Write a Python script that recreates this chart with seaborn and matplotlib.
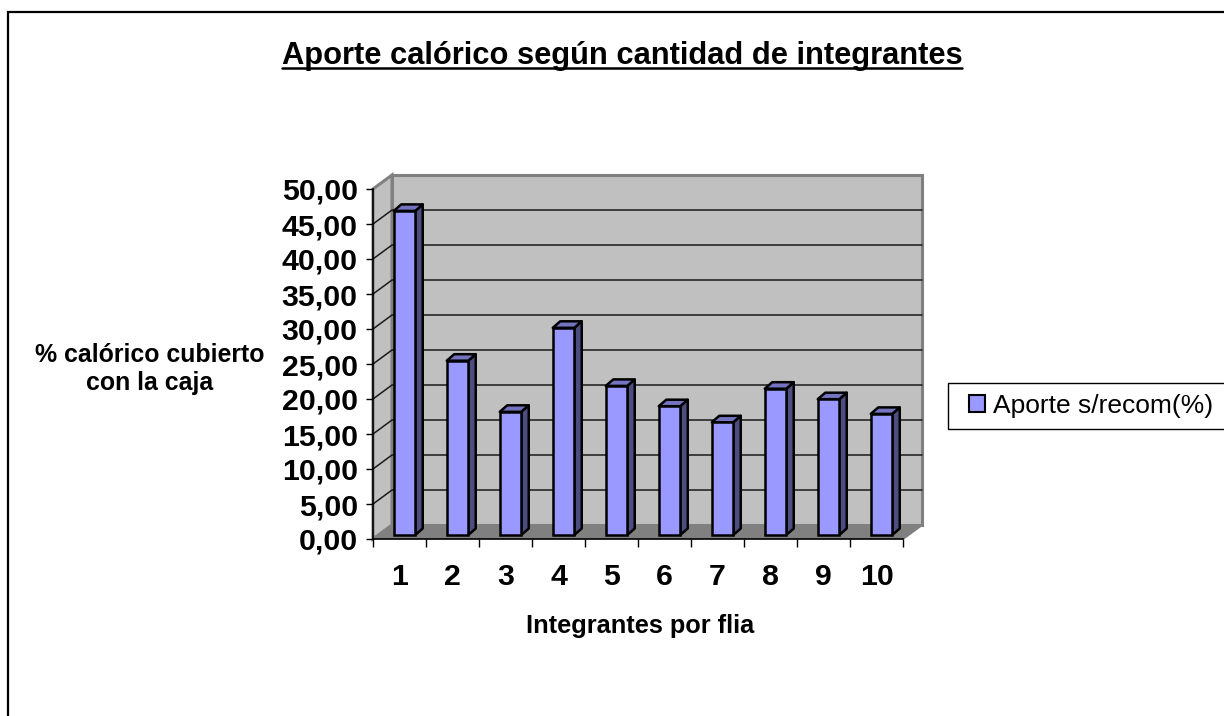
import matplotlib
matplotlib.use("Agg")
import matplotlib.pyplot as plt
import seaborn as sns
import pandas as pd
from matplotlib.patches import Polygon, Rectangle
from matplotlib.lines import Line2D
from matplotlib.ticker import FixedLocator, FuncFormatter

# ---------------- data ----------------
categories = ["1", "2", "3", "4", "5", "6", "7", "8", "9", "10"]
values = [46.3, 24.9, 17.6, 29.6, 21.3, 18.4, 16.1, 20.9, 19.4, 17.3]
series_name = "Aporte s/recom(%)"
title = "Aporte calórico según cantidad de integrantes"
y_label = "% calórico cubierto\ncon la caja"
x_label = "Integrantes por flia"
y_ticks = [0, 5, 10, 15, 20, 25, 30, 35, 40, 45, 50]

sns.set_style("white")
plt.rcParams["font.family"] = ["Liberation Sans", "DejaVu Sans"]
plt.rcParams["text.color"] = "black"
plt.rcParams["axes.labelcolor"] = "black"
plt.rcParams["xtick.color"] = "black"
plt.rcParams["ytick.color"] = "black"

W, H = 1224, 716
fig = plt.figure(figsize=(W / 100, H / 100), dpi=100)

# front plane of the 3D box (pixel geometry)
L, R, T, B = 373, 903, 189, 539
ax = fig.add_axes([L / W, 1 - B / H, (R - L) / W, (B - T) / H])
ax.set_facecolor("none")
ax.set_xlim(-0.5, len(categories) - 0.5)
ax.set_ylim(0, 50)

sx = (len(categories)) / (R - L)   # data units per pixel (x)
sy = 50 / (B - T)                  # data units per pixel (y)

def off(x, y, dxp, dyp):
    return (x + dxp * sx, y + dyp * sy)

WALL_DX, WALL_DY = 19, 14
BAR_DX, BAR_DY = 5, 4
DEP_DX, DEP_DY = 7.5, 6.5

wall_col = "#c0c0c0"
floor_col = "#808080"
edge_gray = "#808080"
x0, x1 = -0.5, len(categories) - 0.5

# back wall
back = Polygon([off(x0, 0, WALL_DX, WALL_DY), off(x1, 0, WALL_DX, WALL_DY),
                off(x1, 50, WALL_DX, WALL_DY), off(x0, 50, WALL_DX, WALL_DY)],
               closed=True, facecolor=wall_col, edgecolor=edge_gray, lw=2.2,
               clip_on=False, zorder=0)
ax.add_patch(back)
# left side wall
side = Polygon([(x0, 0), off(x0, 0, WALL_DX, WALL_DY), off(x0, 50, WALL_DX, WALL_DY), (x0, 50)],
               closed=True, facecolor=wall_col, edgecolor=edge_gray, lw=2.2,
               clip_on=False, zorder=0.1)
ax.add_patch(side)
# gridlines
for yv in y_ticks[1:-1]:
    ax.add_line(Line2D([x0, off(x0, yv, WALL_DX, WALL_DY)[0], off(x1, yv, WALL_DX, WALL_DY)[0]],
                       [yv, off(x0, yv, WALL_DX, WALL_DY)[1], off(x1, yv, WALL_DX, WALL_DY)[1]],
                       color="#1a1a1a", lw=1.1, clip_on=False, zorder=0.5))
# floor
floor = Polygon([(x0, 0), (x1, 0), off(x1, 0, WALL_DX, WALL_DY), off(x0, 0, WALL_DX, WALL_DY)],
                closed=True, facecolor=floor_col, edgecolor="none", clip_on=False, zorder=0.6)
ax.add_patch(floor)
ax.add_line(Line2D([x1, off(x1, 0, WALL_DX, WALL_DY)[0]], [0, off(x1, 0, WALL_DX, WALL_DY)[1]],
                   color=edge_gray, lw=1.5, clip_on=False, zorder=0.7))

# bars (front faces) via seaborn
df = pd.DataFrame({"cat": categories, "val": values})
sns.barplot(data=df, x="cat", y="val", color="#9999ff", saturation=1, width=0.405,
            edgecolor="black", linewidth=1.8, ax=ax, zorder=3)

front_col, side_col, top_col = "#9999ff", "#4d4d80", "#7373bf"
for p in list(ax.patches):
    if not hasattr(p, "get_width") or p in (back, side, floor):
        continue
    p.set_facecolor(front_col)
    xb = p.get_x() + BAR_DX * sx
    h = p.get_height()
    w = p.get_width()
    yb = BAR_DY * sy
    p.set_x(xb)
    p.set_y(yb)
    p.set_clip_on(False)
    sp = Polygon([(xb + w, yb), (xb + w, yb + h), off(xb + w, yb + h, DEP_DX, DEP_DY),
                  off(xb + w, yb, DEP_DX, DEP_DY)], closed=True, facecolor=side_col,
                 edgecolor="black", lw=1.8, joinstyle="round", clip_on=False, zorder=2.9)
    tp = Polygon([(xb, yb + h), (xb + w, yb + h), off(xb + w, yb + h, DEP_DX, DEP_DY),
                  off(xb, yb + h, DEP_DX, DEP_DY)], closed=True, facecolor=top_col,
                 edgecolor="black", lw=1.8, joinstyle="round", clip_on=False, zorder=2.9)
    ax.add_patch(sp)
    ax.add_patch(tp)

# spines
for s in ("top", "right"):
    ax.spines[s].set_visible(False)
for s in ("left", "bottom"):
    ax.spines[s].set_color("black")
    ax.spines[s].set_linewidth(1.2)
    ax.spines[s].set_zorder(1)

ax.set_xlabel("")
ax.set_ylabel("")
ax.yaxis.set_major_locator(FixedLocator(y_ticks))
ax.yaxis.set_major_formatter(FuncFormatter(lambda v, pos: f"{v:.2f}".replace(".", ",")))
ax.tick_params(axis="y", direction="out", length=5, width=1, color="black", pad=6,
               labelsize=21.8, left=True, labelcolor="black")
ax.set_xticks(range(len(categories)))
ax.set_xticklabels(categories)
ax.tick_params(axis="x", which="major", length=0, pad=17, labelsize=21.8, labelcolor="black")
ax.set_xticks([i - 0.5 for i in range(len(categories) + 1)], minor=True)
ax.tick_params(axis="x", which="minor", direction="out", length=5.5, width=1, color="black",
               bottom=True)
for lab in ax.get_xticklabels() + ax.get_yticklabels():
    lab.set_fontweight("bold")

# titles / labels
t = fig.text(622 / W, 1 - 56 / H, title, ha="center", va="center", fontsize=22.2,
             fontweight="bold", color="black")
fig.text(150 / W, 1 - 369 / H, y_label, ha="center", va="center", multialignment="center",
         fontsize=17.9, fontweight="bold", linespacing=1.2, color="black")
fig.text(640 / W, 1 - 626 / H, x_label, ha="center", va="center", fontsize=18.3,
         fontweight="bold", color="black")

# legend (frame drawn separately to match the wide padding)
handle = Rectangle((0, 0), 1, 1, facecolor=front_col, edgecolor="black", lw=1.5)
leg = fig.legend([handle], [series_name], loc="center left",
                 bbox_to_anchor=(969 / W, 1 - 406 / H), fontsize=19, frameon=False,
                 handlelength=0.62, handleheight=0.62, handletextpad=0.3,
                 borderpad=0.0, borderaxespad=0, labelcolor="black")
fig.add_artist(Rectangle((948 / W, 1 - 429 / H), (1240 - 948) / W, 46 / H,
                         transform=fig.transFigure, facecolor="white", edgecolor="black",
                         lw=1.0, zorder=-1))

# outer border of chart area
fig.add_artist(Rectangle((8 / W, -0.05), 1.1, 1 - 12 / H + 0.05, transform=fig.transFigure,
                         facecolor="none", edgecolor="black", lw=1.6))

# underline title
fig.canvas.draw()
bb = t.get_window_extent(fig.canvas.get_renderer())
uy = 1 - 68 / H
fig.add_artist(Line2D([bb.x0 / W, bb.x1 / W], [uy, uy], transform=fig.transFigure,
                      color="black", lw=1.8))

fig.savefig("out.png", dpi=100)
